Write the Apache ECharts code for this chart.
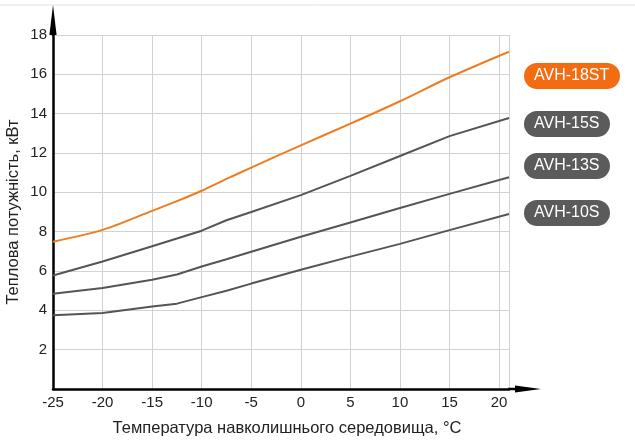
<!DOCTYPE html>
<html>
<head>
<meta charset="utf-8">
<script src="https://cdn.jsdelivr.net/npm/echarts@6/dist/echarts.min.js"></script>
<style>
  html, body { margin: 0; padding: 0; background: #fff; }
  #main { width: 635px; height: 445px; }
</style>
</head>
<body>
<div id="main"></div>
<script>
// температура зовнішнього повітря, °C
const temps = [-25, -20, -15, -12.5, -10, -7.5, -5, 0, 5, 10, 15, 21];

// теплова потужність, кВт
const avh18st = [7.49, 8.09, 9.06, 9.55, 10.08, 10.68, 11.26, 12.39, 13.49, 14.63, 15.85, 17.15];
const avh15s = [5.77, 6.48, 7.26, 7.65, 8.05, 8.58, 9.0, 9.86, 10.84, 11.85, 12.86, 13.78];
const avh13s = [4.84, 5.13, 5.55, 5.82, 6.23, 6.6, 6.98, 7.74, 8.47, 9.2, 9.92, 10.77];
const avh10s = [3.75, 3.86, 4.2, 4.34, 4.67, 5.0, 5.36, 6.06, 6.73, 7.38, 8.08, 8.9];

const names = ['AVH-18ST', 'AVH-15S', 'AVH-13S', 'AVH-10S'];
const values = [avh18st, avh15s, avh13s, avh10s];

const font = '"Liberation Sans", Arial, sans-serif';
const orange = '#ee7d22';
const gray = '#555555';

const chart = echarts.init(document.getElementById('main'));

const pair = arr => temps.map((t, i) => [t, arr[i]]);

let option = {
    backgroundColor: '#fff',
    animation: false,
    grid: { left: 53, right: 126, top: 35, bottom: 56, containLabel: false, outerBoundsMode: 'none' },
    xAxis: {
        type: 'value',
        min: -25,
        max: 21,
        interval: 5,
        name: 'Температура навколишнього середовища, °C',
        nameLocation: 'middle',
        nameGap: 31,
        nameTextStyle: { fontFamily: font, fontSize: 16.5, color: '#222', padding: [0, 0, 0, 12] },
        axisLine: { show: true, onZero: false, lineStyle: { color: '#000', width: 2.5 } },
        axisTick: { show: false },
        axisLabel: { fontFamily: font, fontSize: 15, color: '#222', margin: 6, showMaxLabel: false },
        splitLine: { show: true, lineStyle: { color: '#d2d2d2', width: 1 } }
    },
    yAxis: {
        type: 'value',
        min: 0,
        max: 18,
        interval: 2,
        name: 'Теплова потужність, кВт',
        nameLocation: 'middle',
        nameGap: 31,
        nameMoveOverlap: false,
        nameTextStyle: { fontFamily: font, fontSize: 16.5, color: '#222' },
        axisLine: { show: true, onZero: false, lineStyle: { color: '#000', width: 2.5 } },
        axisTick: { show: false },
        axisLabel: { fontFamily: font, fontSize: 15, color: '#222', margin: 6, showMinLabel: false },
        splitLine: { show: true, lineStyle: { color: '#d2d2d2', width: 1 } }
    },
    series: names.map((n, i) => ({
        name: n,
        type: 'line',
        data: pair(values[i]),
        symbol: 'none',
        smooth: i === 0 ? 0.3 : false,
        lineStyle: { color: i === 0 ? orange : gray, width: 2 },
        z: i === 0 ? 5 : 3
    }))
};
chart.setOption(option);

// стрілки осей та підписи моделей
function decorate() {
    const origin = chart.convertToPixel({ gridIndex: 0 }, [-25, 0]);
    const xEnd = chart.convertToPixel({ gridIndex: 0 }, [21, 0]);
    const yEnd = chart.convertToPixel({ gridIndex: 0 }, [-25, 18]);
    const ox = origin[0], oy = origin[1];

    const pillTops = [63, 111, 153, 200];
    const pills = names.map((n, i) => ({
        type: 'text',
        left: 524,
        top: pillTops[i],
        style: {
            text: n,
            fill: '#fff',
            font: '16px ' + font,
            backgroundColor: i === 0 ? '#f26c12' : '#5b5b5b',
            borderRadius: 13.5,
            padding: [5, 10, 5, 10],
            width: i === 0 ? 76 : 66,
            align: 'left'
        }
    }));

    chart.setOption({
        graphic: [
            {
                type: 'line',
                shape: { x1: 0, y1: 5, x2: 635, y2: 5 },
                style: { stroke: '#e2e2e2', lineWidth: 1 }
            },
            {
                type: 'line',
                shape: { x1: xEnd[0] - 1, y1: oy, x2: xEnd[0] + 8, y2: oy },
                style: { stroke: '#000', lineWidth: 2.5 }
            },
            {
                type: 'polygon',
                shape: { points: [[xEnd[0] + 6, oy - 3.6], [xEnd[0] + 32, oy], [xEnd[0] + 6, oy + 3.6]] },
                style: { fill: '#000' }
            },
            {
                type: 'polygon',
                shape: { points: [[ox - 3.6, yEnd[1]], [ox, 5], [ox + 3.6, yEnd[1]]] },
                style: { fill: '#000' }
            },
            {
                type: 'line',
                shape: { x1: ox, y1: yEnd[1] + 1, x2: ox, y2: yEnd[1] - 6 },
                style: { stroke: '#000', lineWidth: 2.5 }
            }
        ].concat(pills)
    });
}
decorate();
</script>
</body>
</html>
